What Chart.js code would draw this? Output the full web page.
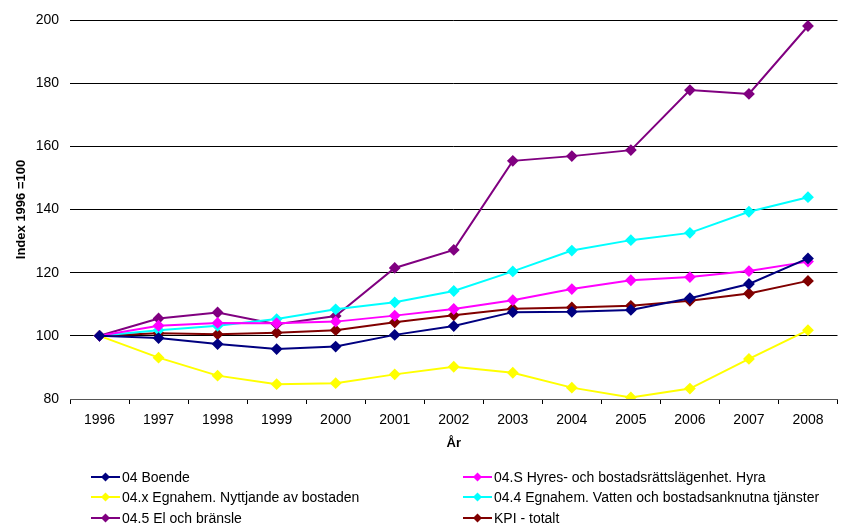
<!DOCTYPE html>
<html><head><meta charset="utf-8">
<script src="https://cdn.jsdelivr.net/npm/chart.js@4/dist/chart.umd.min.js"></script>
<style>html,body{margin:0;padding:0;background:#fff}#wrap{width:844px;height:524px;position:relative}</style>
</head><body><div id="wrap"><canvas id="c" width="844" height="524"></canvas></div>
<script>
const years = ['1996','1997','1998','1999','2000','2001','2002','2003','2004','2005','2006','2007','2008'];
const boende   = [100, 99.3, 97.4, 95.8, 96.6, 100.3, 103.1, 107.5, 107.6, 108.2, 111.9, 116.4, 124.5];
const hyra     = [100, 103.2, 104.1, 104.0, 104.5, 106.4, 108.5, 111.3, 114.8, 117.6, 118.6, 120.5, 123.5];
const nyttj    = [100, 93.1, 87.4, 84.7, 85.0, 87.8, 90.2, 88.3, 83.6, 80.5, 83.3, 92.7, 101.8];
const vatten   = [100, 101.8, 103.2, 105.3, 108.4, 110.6, 114.2, 120.4, 127.0, 130.3, 132.6, 139.3, 143.9];
const el       = [100, 105.5, 107.4, 103.7, 106.3, 121.5, 127.2, 155.4, 156.9, 158.8, 177.8, 176.6, 198.1];
const kpi      = [100, 100.8, 100.5, 101.0, 101.8, 104.3, 106.5, 108.6, 109.0, 109.5, 111.1, 113.4, 117.4];
const seriesNames = ['04 Boende','04.S Hyres- och bostadsrättslägenhet. Hyra','04.x Egnahem. Nyttjande av bostaden','04.4 Egnahem. Vatten och bostadsanknutna tjänster','04.5 El och bränsle','KPI - totalt'];
const seriesColors = ['#000080','#FF00FF','#FFFF00','#00FFFF','#800080','#800000'];
const seriesData = [boende, hyra, nyttj, vatten, el, kpi];
const yTitle = 'Index 1996 =100';
const xTitle = 'År';

const FONT = 'Liberation Sans, Arial, sans-serif';
const datasets = seriesData.map((d,i)=>({
  label: seriesNames[i], data: d,
  borderColor: seriesColors[i], backgroundColor: seriesColors[i],
  borderWidth: 2, pointStyle: 'rectRot', pointRadius: 4.5, pointHoverRadius: 4.5,
  tension: 0
}));

const legendPlugin = {
  id: 'gridLegend',
  afterDraw(chart) {
    const ctx = chart.ctx;
    const cols = [91, 463];
    const rows = [477, 497, 518];
    ctx.save();
    ctx.font = '14px ' + FONT;
    ctx.textBaseline = 'middle';
    chart.data.datasets.forEach((ds, i) => {
      const x = cols[i % 2], y = rows[Math.floor(i / 2)];
      ctx.strokeStyle = ds.borderColor; ctx.lineWidth = 2;
      ctx.beginPath(); ctx.moveTo(x, y); ctx.lineTo(x + 29, y); ctx.stroke();
      ctx.fillStyle = ds.borderColor;
      const cx = x + 14.5, r = 4.5;
      ctx.beginPath(); ctx.moveTo(cx, y - r); ctx.lineTo(cx + r, y); ctx.lineTo(cx, y + r); ctx.lineTo(cx - r, y); ctx.closePath(); ctx.fill();
      ctx.fillStyle = '#000';
      ctx.fillText(ds.label, x + 31, y + 1);
    });
    ctx.restore();
  }
};

new Chart(document.getElementById('c'), {
  type: 'line',
  data: { labels: years, datasets },
  options: {
    responsive: false, animation: false,
    layout: { padding: { top: 20, right: 6, bottom: 73, left: 0 } },
    plugins: { legend: { display: false }, tooltip: { enabled: false } },
    scales: {
      x: {
        offset: true,
        grid: { drawOnChartArea: false, drawTicks: true, tickLength: 5, color: '#000', offset: true },
        border: { display: true, color: '#555', width: 1 },
        ticks: { color: '#000', font: { family: FONT, size: 14 }, padding: 8, maxRotation: 0 },
        title: { display: true, text: xTitle, color: '#000', font: { family: FONT, size: 13, weight: 'bold' }, padding: { top: 0, bottom: 0 } },
        afterFit(s) { s.height = 52; }
      },
      y: {
        min: 80, max: 200,
        ticks: { stepSize: 20, color: '#000', font: { family: FONT, size: 14 }, padding: 11 },
        grid: { color: '#000', lineWidth: 1, drawTicks: false },
        border: { display: false },
        title: { display: true, text: yTitle, color: '#000', font: { family: FONT, size: 13, weight: 'bold' }, padding: { top: 14, bottom: 0 } },
        afterFit(s) { s.width = 70; }
      }
    }
  },
  plugins: [legendPlugin]
});
</script></body></html>
